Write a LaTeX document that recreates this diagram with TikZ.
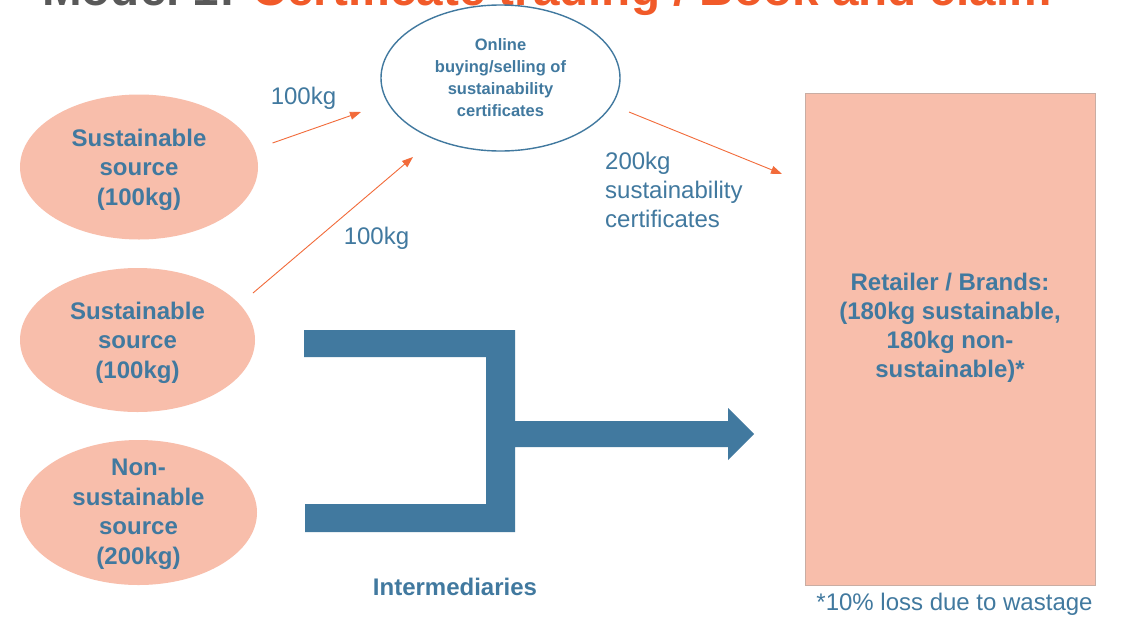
\documentclass[tikz,border=0pt]{standalone}
\usepackage{fontspec}
\setmainfont{Liberation Sans}
\usetikzlibrary{shapes.geometric,arrows.meta}
\definecolor{salmon}{HTML}{F8BEAB}
\definecolor{tblue}{HTML}{41799F}
\definecolor{torange}{HTML}{F26B3A}
\definecolor{ttitle}{HTML}{F15A29}
\definecolor{tgray}{HTML}{595959}
\definecolor{rborder}{HTML}{C9ADA3}
\begin{document}
\begin{tikzpicture}[x=1pt,y=-1pt,
  src/.style={ellipse,fill=salmon,minimum width=238pt,minimum height=145pt,inner sep=0pt},
  srctext/.style={align=center,inner sep=0pt,text=tblue,font=\bfseries\fontsize{24}{29.5}\selectfont},
  market/.style={ellipse,draw=tblue,line width=1.4pt,fill=white,minimum width=239pt,minimum height=146pt,inner sep=0pt,align=center,text=tblue,font=\bfseries\fontsize{16.5}{22}\selectfont},
  retail/.style={rectangle,fill=salmon,draw=rborder,line width=0.8pt,minimum width=290pt,minimum height=492pt,inner sep=0pt},
  lbl/.style={text=tblue,inner sep=0pt,font=\fontsize{24}{29}\selectfont},
  blbl/.style={text=tblue,inner sep=0pt,font=\bfseries\fontsize{24}{29}\selectfont},
  oarrow/.style={draw=torange,line width=0.9pt,-{Triangle[length=11pt,width=8pt]}}]
\useasboundingbox (0,0) rectangle (1122,619);
\clip (0,0) rectangle (1122,619);
\fill[white] (0,0) rectangle (1122,619);

% title (cut off at top, as in the reference)
\node[anchor=base west,inner sep=0pt,font=\bfseries\fontsize{47.6}{50}\selectfont] (title) at (42,5)
  {\textcolor{tgray}{Model 1:} \textcolor{ttitle}{Certificate trading / Book and claim}};

% sources
\node[src] (s1) at (139,167) {};
\node[srctext] (s1t) at ([yshift=-2.5pt]s1.center) {Sustainable\\source\\(100kg)};
\node[src,minimum width=235pt,minimum height=144pt] (s2) at (137.5,340) {};
\node[srctext] (s2t) at ([yshift=-2.5pt]s2.center) {Sustainable\\source\\(100kg)};
\node[src,minimum width=237pt] (s3) at (138.5,512.5) {};
\node[srctext] (s3t) at ([yshift=-2pt]s3.center) {Non-\\sustainable\\source\\(200kg)};

% market
\node[market] (mk) at (500.5,78) {Online\\buying/selling of\\sustainability\\certificates};

% retailer
\node[retail] (rt) at (950,339) {};
\node[blbl,align=center] (rtt) at (950,328) {Retailer / Brands:\\(180kg sustainable,\\180kg non-\\sustainable)*};
\node[lbl] (note) at (954.5,604) {*10\% loss due to wastage};

% certificate arrows
\coordinate (a1s) at (272.5,143);
\coordinate (a1e) at (361,112);
\coordinate (a2s) at (253,293);
\coordinate (a2e) at (413,157);
\coordinate (a3s) at (629,112);
\coordinate (a3e) at (782,174);
\draw[oarrow] (a1s) -- (a1e);
\draw[oarrow] (a2s) -- (a2e);
\draw[oarrow] (a3s) -- (a3e);
\node[lbl] (l1) at (303.5,98) {100kg};
\node[lbl] (l2) at (376.5,238) {100kg};
\node[lbl,align=left,anchor=west] (l3) at (605,189.5) {200kg\\sustainability\\certificates};

% intermediaries flow
\fill[tblue] (304,330) -- (515,330) -- (515,421) -- (728,421) -- (728,408) -- (754,434)
  -- (728,460) -- (728,447) -- (515,447) -- (515,532) -- (305,532) -- (305,504)
  -- (486,504) -- (486,357) -- (304,357) -- cycle;
\node[blbl] (im) at (455,587) {Intermediaries};
\end{tikzpicture}
\end{document}
